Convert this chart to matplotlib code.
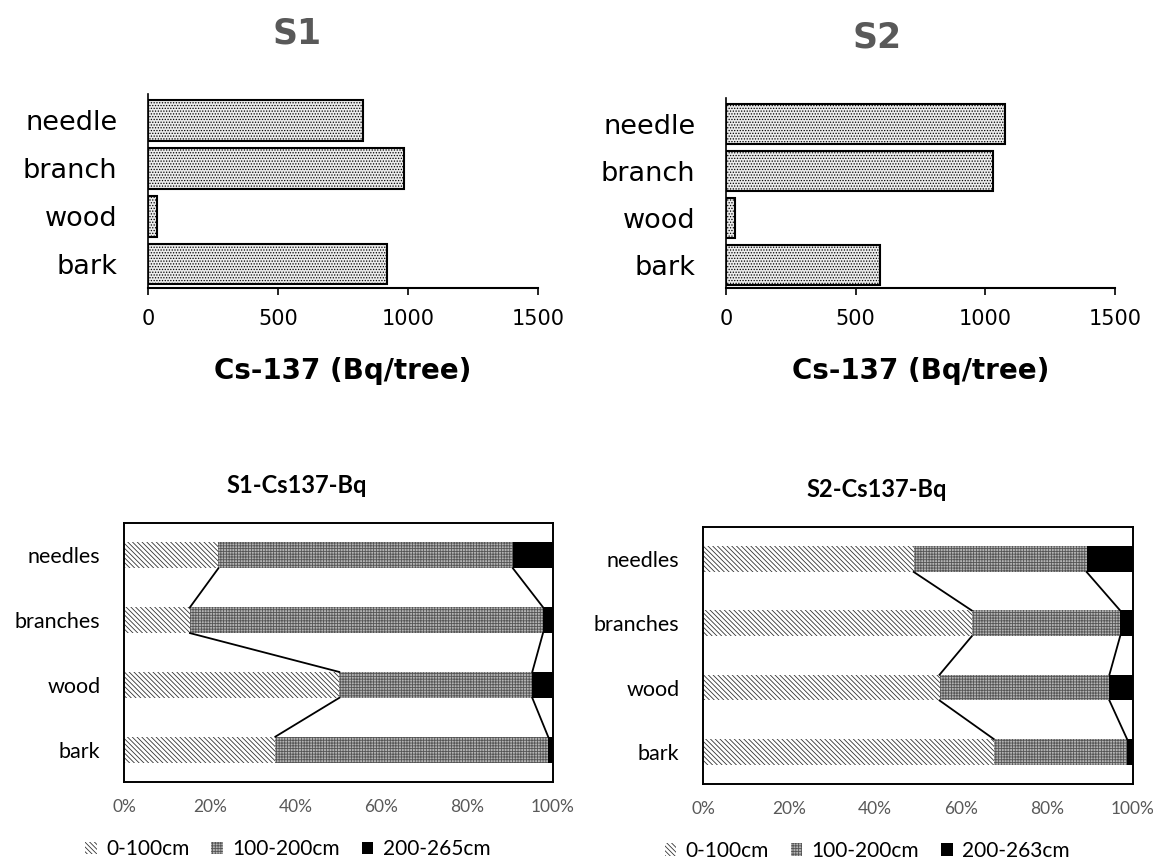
# plot.py
import matplotlib
matplotlib.use('Agg')
import matplotlib.pyplot as plt
import matplotlib.ticker as mtick
from matplotlib.patches import Patch

plt.rcParams['hatch.linewidth'] = 0.6

# top charts: Cs-137 per tree part
parts = ['needle', 'branch', 'wood', 'bark']
s1_total = [828, 984, 36, 917]
s2_total = [1077, 1029, 35, 595]

# bottom charts: share by height class (%)
parts_b = ['needles', 'branches', 'wood', 'bark']
s1_low = [22.0, 15.4, 50.2, 35.3]
s1_mid = [68.7, 82.3, 45.0, 63.6]
s1_top = [9.3, 2.3, 4.8, 1.1]
s2_low = [49.0, 62.5, 55.0, 67.6]
s2_mid = [40.2, 34.5, 39.5, 31.0]
s2_top = [10.8, 3.0, 5.5, 1.4]
s1_labels = ['0-100cm', '100-200cm', '200-265cm']
s2_labels = ['0-100cm', '100-200cm', '200-263cm']

TOP_FONT = 'DejaVu Sans'
BOT_FONT = ['Lato', 'DejaVu Sans']
HATCH_LOW = '\\' * 7
HATCH_MID = '+' * 6
MID_FACE = '#b4b4b4'
MID_LINE = '#555555'


def total_chart(ax, values):
    y = list(range(len(parts)))[::-1]
    ax.barh(y, values, height=0.85, color='#ececec', edgecolor='black',
            linewidth=1.5, hatch='......')
    ax.set_xlim(0, 1500)
    ax.set_ylim(-0.5, 3.55)
    ax.set_xticks([0, 500, 1000, 1500])
    ax.set_yticks(y)
    ax.set_yticklabels(parts, fontsize=19.5, family=TOP_FONT)
    for t in ax.get_xticklabels():
        t.set_fontsize(15)
        t.set_family(TOP_FONT)
    ax.tick_params(axis='y', length=0, pad=22)
    ax.tick_params(axis='x', direction='out', length=5, width=1.2, pad=10)
    ax.spines['top'].set_visible(False)
    ax.spines['right'].set_visible(False)
    ax.spines['left'].set_linewidth(1.2)
    ax.spines['bottom'].set_linewidth(1.5)
    ax.set_xlabel('Cs-137 (Bq/tree)', fontsize=20, fontweight='bold',
                  family=TOP_FONT, labelpad=20)


def share_chart(ax, low, mid, top, labels, title, title_x):
    y = list(range(len(parts_b)))[::-1]
    h = 0.40
    low_f = [v / 100 for v in low]
    mid_f = [v / 100 for v in mid]
    top_f = [v / 100 for v in top]
    left2 = low_f
    left3 = [a + b for a, b in zip(low_f, mid_f)]
    ax.barh(y, low_f, height=h, color='white', edgecolor='#333333',
            linewidth=0, hatch=HATCH_LOW)
    ax.barh(y, mid_f, left=left2, height=h, color=MID_FACE,
            edgecolor=MID_LINE, linewidth=0, hatch=HATCH_MID)
    ax.barh(y, top_f, left=left3, height=h, color='black', linewidth=0)
    # series lines between neighbouring bars
    for bound in (left2, left3):
        for i in range(len(y) - 1):
            ax.plot([bound[i], bound[i + 1]], [y[i] - h / 2, y[i + 1] + h / 2],
                    color='black', linewidth=1.3)
    ax.set_xlim(0, 1)
    ax.set_ylim(-0.5, 3.5)
    ax.set_xticks([0, 0.2, 0.4, 0.6, 0.8, 1.0])
    ax.xaxis.set_major_formatter(mtick.PercentFormatter(1.0, decimals=0))
    ax.set_yticks(y)
    ax.set_yticklabels(parts_b, fontsize=15.5, family=BOT_FONT)
    for t in ax.get_xticklabels():
        t.set_fontsize(12.5)
        t.set_family(BOT_FONT)
        t.set_color('#595959')
    ax.tick_params(axis='both', length=0)
    ax.tick_params(axis='y', pad=17)
    ax.tick_params(axis='x', pad=12)
    for s in ax.spines.values():
        s.set_linewidth(1.4)
    ax.text(title_x, 1.0 + 38 / 259, title, transform=ax.transAxes,
            fontsize=17, fontweight='bold', family=BOT_FONT,
            ha='center', va='center')
    handles = [Patch(facecolor='white', edgecolor='#333333', linewidth=0, hatch=HATCH_LOW),
               Patch(facecolor=MID_FACE, edgecolor=MID_LINE, linewidth=0, hatch=HATCH_MID),
               Patch(facecolor='black', linewidth=0)]
    ax.legend(handles, labels, loc='center', bbox_to_anchor=(0.382, -0.26),
              ncol=3, frameon=False, prop={'family': BOT_FONT, 'size': 15},
              handlelength=0.55, handleheight=0.55, handletextpad=0.45,
              columnspacing=1.05)


fig = plt.figure(figsize=(11.53, 8.66), dpi=100)

ax1 = fig.add_axes([0.1284, 0.6674, 0.3383, 0.224])
ax2 = fig.add_axes([0.6297, 0.6674, 0.3374, 0.219])
ax3 = fig.add_axes([0.1075, 0.0970, 0.3720, 0.2990])
ax4 = fig.add_axes([0.6097, 0.0947, 0.3730, 0.2968])

total_chart(ax1, s1_total)
total_chart(ax2, s2_total)
fig.text(297 / 1153, 1 - 34 / 866, 'S1', fontsize=25, fontweight='bold',
         color='#595959', ha='center', va='center', family=TOP_FONT)
fig.text(877 / 1153, 1 - 38 / 866, 'S2', fontsize=25, fontweight='bold',
         color='#595959', ha='center', va='center', family=TOP_FONT)

share_chart(ax3, s1_low, s1_mid, s1_top, s1_labels, 'S1-Cs137-Bq', 0.403)
share_chart(ax4, s2_low, s2_mid, s2_top, s2_labels, 'S2-Cs137-Bq', 0.405)

fig.savefig('out.png', dpi=100)
